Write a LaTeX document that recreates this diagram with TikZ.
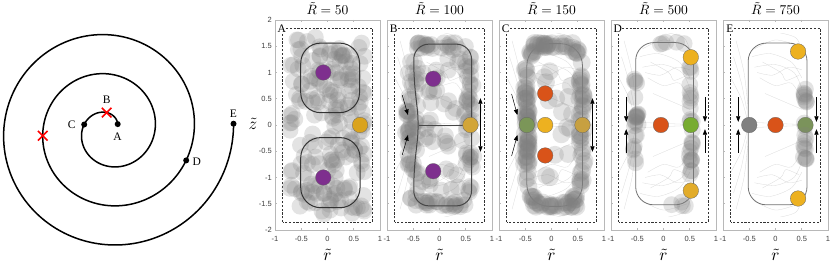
\RequirePackage{fix-cm}
\documentclass[tikz,border=0pt]{standalone}
\usepackage{graphicx}
\usepackage{fontspec}
\setmainfont{Liberation Serif}
\setsansfont{Liberation Sans}
\usetikzlibrary{arrows.meta,shapes.misc}
\definecolor{mpurple}{HTML}{7E2F8E}
\definecolor{morange}{HTML}{EDB120}
\definecolor{mred}{HTML}{D95319}
\definecolor{mgreen}{HTML}{77AC30}
\definecolor{mgray}{HTML}{808080}
\tikzset{
 spiral/.style={line width=1.5pt, black},
 sdot/.style={circle, fill=black, inner sep=0pt, minimum size=6pt},
 xmark/.style={cross out, draw=red, line width=1.6pt, minimum size=8pt, inner sep=0pt},
 slabel/.style={font=\fontsize{11.5}{12}\selectfont, inner sep=1pt},
 pframe/.style={draw=black!28, line width=0.7pt},
 dbox/.style={draw=black!80, line width=0.55pt, dash pattern=on 2.2pt off 1.6pt},
 gc/.style={fill=mgray, fill opacity=0.22},
 loopl/.style={draw=black!80, line width=1pt},
 tloop/.style={draw=black!55, line width=0.8pt},
 stream/.style={draw=black!35, line width=0.3pt, opacity=0.4},
 ball/.style={draw=black!60, line width=0.3pt},
 arr/.style={-{Triangle[length=5.5pt,width=4.2pt]}, line width=0.5pt, black},
 darr/.style={{Triangle[length=5.5pt,width=4.2pt]}-{Triangle[length=5.5pt,width=4.2pt]}, line width=0.5pt, black},
 ticklab/.style={font=\sffamily\fontsize{7.5}{8}\selectfont, text=black!75, inner sep=0.5pt},
 ptitle/.style={font=\normalsize, inner sep=0.5pt},
 axlab/.style={font=\normalsize, inner sep=0.5pt},
 plet/.style={font=\fontsize{11.5}{11.5}\selectfont, fill=white, inner sep=0.3pt},
}
\newcommand\graydots[6]{%
 \foreach \i in {1,...,#1}{%
  \pgfmathsetmacro\xx{#2+#3*rand}%
  \pgfmathsetmacro\zz{#4+#5*rand}%
  \fill[gc] (\xx,\zz) circle (#6);}}
\newcommand\panelbase[2]{%
 \draw[pframe] (-1,-2) rectangle (1,2);
 \foreach \zz in {-1.5,-1,...,1.5} \draw[pframe] (-1,\zz) -- ++(0.045,0);
 \foreach \rr in {-0.5,0,0.5} {\draw[pframe] (\rr,-2) -- ++(0,0.045); \draw[pframe] (\rr,2) -- ++(0,-0.045);}
 \draw[dbox] (-0.855,-1.85) rectangle (0.845,1.85);
 \node[ptitle] (title#1) at (0,2.22) {\scalebox{1.35}{$\tilde R = #2$}};
 \foreach \rr/\lab [count=\k] in {-1/-1,-0.5/-0.5,0/0,0.5/0.5,1/1} \node[ticklab] (xt#1\k) at (\rr,-2.17) {\lab};
 \node[axlab] (rlab#1) at (0,-2.47) {\scalebox{1.7}{$\tilde r$}};
}
\newcommand\streamsup{%
 \draw[stream] plot[smooth] coordinates {(-0.45,1.3) (-0.1,1.36) (0.3,1.2) (0.5,0.9)};
 \draw[stream] plot[smooth] coordinates {(-0.4,1.1) (0,1.15) (0.35,1.0) (0.5,0.7)};
 \draw[stream] plot[smooth] coordinates {(-0.3,0.9) (0,0.75) (0.3,0.8) (0.5,0.5)};
 \draw[stream] plot[smooth] coordinates {(-0.2,0.6) (0.15,0.45) (0.5,0.3)};
 \draw[stream] plot[smooth] coordinates {(-0.8,1.3) (-0.65,0.8) (-0.55,0.3)};
 \draw[stream] plot[smooth] coordinates {(-0.75,1.6) (-0.6,1.0) (-0.53,0.4)};
 \draw[stream] plot[smooth] coordinates {(-0.85,0.9) (-0.65,0.5) (-0.55,0.15)};
 \draw[stream] plot[smooth] coordinates {(-0.4,1.45) (0,1.62) (0.45,1.5)};
 \draw[stream] plot[smooth] coordinates {(0.1,1.75) (0.4,1.65) (0.55,1.3)};
 \draw[stream] plot[smooth] coordinates {(-0.25,1.2) (0.1,1.0) (0.2,0.85) (0.45,0.95)};
 \draw[stream] plot[smooth] coordinates {(-0.35,1.0) (-0.05,0.95) (0.25,1.1) (0.5,1.05)};
 \draw[stream] plot[smooth] coordinates {(-0.45,0.05) (0,0.03) (0.5,0.01)};
}
\begin{document}
\begin{tikzpicture}[x=1pt,y=1pt]
\useasboundingbox (0,0) rectangle (830,263);
\fill[white] (0,0) rectangle (830,263);
% ---------------- spiral ----------------
\draw[spiral] plot[domain=0.59:18.9, samples=600, variable=\t] ({108.8+(7+6.24*\t)*cos(\t r)}, {133+(7+6.24*\t)*sin(\t r)});
\node[sdot] (A) at (117.7,138.9) {};
\node[sdot] (C) at (84.2,138.5) {};
\node[sdot] (D) at (186.2,102.6) {};
\node[sdot] (E) at (233.5,139.3) {};
\node[xmark] (B) at (106.7,150.4) {};
\node[xmark] (X2) at (42.7,127.3) {};
\node[slabel] (labA) at (117.5,126.5) {A};
\node[slabel] (labB) at (106.6,163) {B};
\node[slabel] (labC) at (71.8,138.7) {C};
\node[slabel] (labD) at (196.8,100.8) {D};
\node[slabel] (labE) at (233.4,149.7) {E};
% ---------------- panel A ----------------
\begin{scope}[shift={(327.5pt,138pt)}, x=52.5pt, y=52.5pt]
 \panelbase{A}{50}
 \foreach \zz/\lab [count=\k] in {2/2,1.5/1.5,1/1,0.5/0.5,0/0,-0.5/-0.5,-1/-1,-1.5/-1.5,-2/-2}
   \node[ticklab, anchor=east] (yt\k) at (-1.05,\zz) {\lab};
 \node[axlab] (zlab) at (-1.42,0.02) {\scalebox{1.7}{$\tilde z$}};
 \pgfmathsetseed{11}
 \graydots{200}{0}{0.72}{0}{1.7}{0.16}
 \draw[loopl, rounded corners=20pt] (-0.51,0.235) rectangle (0.61,1.56);
 \draw[loopl, rounded corners=20pt] (-0.51,-1.575) rectangle (0.62,-0.24);
 \filldraw[ball, fill=mpurple] (-0.08,1.0) circle (0.148);
 \filldraw[ball, fill=mpurple] (-0.08,-1.0) circle (0.148);
 \filldraw[ball, fill=morange!92!black] (0.62,0) circle (0.148);
 \node[plet] (letA) at (-0.87,1.83) {A};
\end{scope}
% ---------------- panel B ----------------
\begin{scope}[shift={(439.5pt,138pt)}, x=52.5pt, y=52.5pt]
 \panelbase{B}{100}
 \streamsup
 \begin{scope}[yscale=-1]\streamsup\end{scope}
 \pgfmathsetseed{23}
 \graydots{50}{-0.5}{0.1}{0}{1.45}{0.16}
 \graydots{38}{0.58}{0.08}{0}{1.3}{0.16}
 \graydots{24}{0.05}{0.5}{1.5}{0.07}{0.16}
 \graydots{24}{0.05}{0.5}{-1.5}{0.07}{0.16}
 \graydots{45}{0.1}{0.42}{0}{1.3}{0.16}
 \graydots{10}{-0.6}{0.06}{0}{0.35}{0.16}
 \draw[loopl, draw=black!72, rounded corners=15pt] (-0.39,0) -- (-0.49,0.9) -- (-0.49,1.54) -- (0.61,1.54) -- (0.61,-1.54) -- (-0.49,-1.54) -- (-0.49,-0.9) -- cycle;
 \draw[loopl, draw=black!72] (-0.39,0) -- (0.61,0);
 \filldraw[ball, fill=mpurple] (-0.12,0.88) circle (0.148);
 \filldraw[ball, fill=mpurple] (-0.12,-0.88) circle (0.148);
 \filldraw[ball, fill=morange!75!gray] (0.59,0) circle (0.148);
 \draw[arr] (-0.71,0.57) -- (-0.6,0.19);
 \draw[arr] (-0.71,-0.57) -- (-0.6,-0.19);
 \draw[darr] (0.78,0.51) -- (0.78,-0.51);
 \node[plet] (letB) at (-0.87,1.83) {B};
\end{scope}
% ---------------- panel C ----------------
\begin{scope}[shift={(551.5pt,138pt)}, x=52.5pt, y=52.5pt]
 \panelbase{C}{150}
 \streamsup
 \begin{scope}[yscale=-1]\streamsup\end{scope}
 \draw[tloop, rounded corners=22pt] (-0.47,-1.55) rectangle (0.59,1.55);
 \pgfmathsetseed{37}
 \graydots{16}{0.05}{0.35}{0}{1.15}{0.17}
 \graydots{45}{-0.48}{0.05}{0}{1.2}{0.17}
 \graydots{18}{-0.47}{0.04}{0}{0.35}{0.17}
 \graydots{40}{0.58}{0.05}{0}{1.2}{0.17}
 \graydots{26}{0.06}{0.42}{1.52}{0.05}{0.17}
 \graydots{26}{0.06}{0.42}{-1.52}{0.05}{0.17}
 \graydots{6}{-0.36}{0.06}{1.38}{0.06}{0.17}
 \graydots{6}{0.46}{0.06}{1.38}{0.06}{0.17}
 \graydots{6}{-0.36}{0.06}{-1.38}{0.06}{0.17}
 \graydots{6}{0.46}{0.06}{-1.38}{0.06}{0.17}
 \filldraw[ball, fill=mred] (-0.12,0.6) circle (0.148);
 \filldraw[ball, fill=mred] (-0.12,-0.58) circle (0.148);
 \filldraw[ball, fill=morange] (-0.12,0) circle (0.148);
 \filldraw[ball, fill=mgreen!50!gray] (-0.47,0) circle (0.148);
 \filldraw[ball, fill=morange!65!gray] (0.59,0) circle (0.148);
 \draw[arr] (-0.76,0.59) -- (-0.65,0.19);
 \draw[arr] (-0.76,-0.59) -- (-0.65,-0.19);
 \draw[darr] (0.78,0.51) -- (0.78,-0.51);
 \node[plet] (letC) at (-0.87,1.83) {C};
\end{scope}
% ---------------- panel D ----------------
\begin{scope}[shift={(663.5pt,138pt)}, x=52.5pt, y=52.5pt]
 \panelbase{D}{500}
 \streamsup
 \begin{scope}[yscale=-1]\streamsup\end{scope}
 \draw[tloop, rounded corners=18pt] (-0.53,-1.52) rectangle (0.57,1.57);
 \pgfmathsetseed{41}
 \graydots{14}{-0.52}{0.04}{0}{0.25}{0.16}
 \graydots{5}{-0.55}{0.04}{0.7}{0.3}{0.16}
 \graydots{5}{-0.55}{0.04}{-0.7}{0.3}{0.16}
 \graydots{26}{0.52}{0.03}{0}{1.1}{0.16}
 \graydots{5}{0.1}{0.3}{1.55}{0.04}{0.16}
 \graydots{4}{0.35}{0.2}{-1.5}{0.04}{0.16}
 \filldraw[ball, fill=mred] (-0.05,0) circle (0.148);
 \filldraw[ball, fill=mgreen] (0.52,0) circle (0.148);
 \filldraw[ball, fill=morange] (0.52,1.29) circle (0.148);
 \filldraw[ball, fill=morange!90!gray] (0.52,-1.25) circle (0.148);
 \draw[arr] (-0.71,0.53) -- (-0.71,0.06);
 \draw[arr] (-0.71,-0.53) -- (-0.71,-0.08);
 \draw[arr] (0.79,0.53) -- (0.79,0.06);
 \draw[arr] (0.79,-0.53) -- (0.79,-0.08);
 \node[plet] (letD) at (-0.87,1.83) {D};
\end{scope}
% ---------------- panel E ----------------
\begin{scope}[shift={(775.5pt,138pt)}, x=52.5pt, y=52.5pt]
 \panelbase{E}{750}
 \streamsup
 \begin{scope}[yscale=-1]\streamsup\end{scope}
 \draw[tloop, rounded corners=18pt] (-0.52,-1.52) rectangle (0.6,1.56);
 \filldraw[ball, fill=mgray] (-0.5,0) circle (0.148);
 \filldraw[ball, fill=mred] (0,0) circle (0.148);
 \filldraw[ball, fill=mgreen!75!gray] (0.57,0) circle (0.148);
 \pgfmathsetseed{53}
 \graydots{20}{0.56}{0.03}{0}{0.7}{0.16}
 \filldraw[ball, fill=morange] (0.43,1.4) circle (0.148);
 \filldraw[ball, fill=morange] (0.43,-1.4) circle (0.148);
 \draw[arr] (-0.71,0.53) -- (-0.71,0.06);
 \draw[arr] (-0.71,-0.53) -- (-0.71,-0.08);
 \draw[arr] (0.78,0.53) -- (0.78,0.06);
 \draw[arr] (0.78,-0.53) -- (0.78,-0.08);
 \node[plet] (letE) at (-0.87,1.83) {E};
\end{scope}
\end{tikzpicture}
\end{document}
